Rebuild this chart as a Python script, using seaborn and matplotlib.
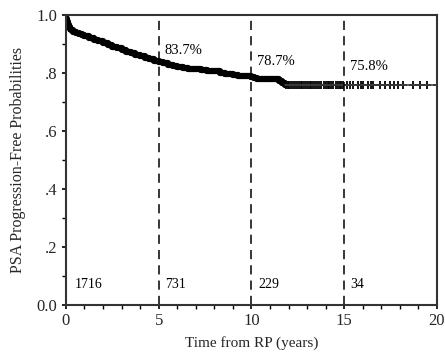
import matplotlib
matplotlib.use("Agg")
import matplotlib.pyplot as plt
from matplotlib.ticker import MultipleLocator
import seaborn as sns
import pandas as pd

# Kaplan-Meier step points (years, survival probability)
km_time = [0.0, 0.03, 0.06, 0.1, 0.15, 0.2, 0.3, 0.4, 0.55, 0.7, 0.85, 1.0, 1.25, 1.5, 1.75,
           2.0, 2.25, 2.5, 2.75, 3.0, 3.25, 3.5, 3.75, 4.0, 4.25, 4.5, 4.75, 5.0, 5.25,
           5.5, 5.75, 6.0, 6.3, 6.6, 7.0, 7.3, 7.6, 8.0, 8.3, 8.6, 9.0, 9.3, 9.6, 10.0,
           10.15, 10.3, 11.3, 11.5, 11.65, 11.8]
km_surv = [1.0, 0.985, 0.975, 0.965, 0.958, 0.952, 0.947, 0.942, 0.938, 0.934, 0.930,
           0.926, 0.921, 0.915, 0.909, 0.903, 0.897, 0.891, 0.885, 0.879, 0.873, 0.867,
           0.862, 0.857, 0.852, 0.847, 0.842, 0.837, 0.833, 0.829, 0.825, 0.821, 0.818,
           0.815, 0.812, 0.810, 0.808, 0.805, 0.801, 0.797, 0.793, 0.791, 0.789, 0.787,
           0.782, 0.778, 0.778, 0.772, 0.765, 0.758]

# tail of the curve (no more events) and censored observations
tail_time = [11.8, 20.0]
tail_surv = [0.758, 0.758]
censor_time = [11.85, 11.95, 12.05, 12.15, 12.25, 12.35, 12.45, 12.55, 12.65, 12.75,
               12.85, 12.95, 13.05, 13.15, 13.2, 13.3, 13.4, 13.55, 13.65, 13.75, 13.9,
               14.0, 14.1, 14.2, 14.3, 14.4, 14.55, 14.65, 14.75, 14.85, 14.95,
               15.13, 15.31, 15.49, 15.76, 15.9, 16.03, 16.3, 16.45, 16.57, 16.93, 17.2,
               17.47, 17.68, 17.92, 18.15, 18.72, 19.08, 19.44, 19.98]
censor_surv = [0.758] * len(censor_time)

landmark_years = [5, 10, 15]
landmark_labels = ["83.7%", "78.7%", "75.8%"]
landmark_label_y = [0.855, 0.817, 0.80]
at_risk_x = [0.5, 5.35, 10.4, 15.35]
at_risk = ["1716", "731", "229", "34"]

y_ticks = [0.0, 0.2, 0.4, 0.6, 0.8, 1.0]
y_tick_labels = ["0.0", ".2", ".4", ".6", ".8", "1.0"]
x_ticks = [0, 5, 10, 15, 20]

sns.set_theme(style="white")
plt.rcParams["font.family"] = ["Liberation Serif", "DejaVu Serif"]

fig = plt.figure(figsize=(4.45, 3.54), dpi=100)
ax = fig.add_axes([0.148, 0.138, 0.834, 0.82])

km = pd.DataFrame({"t": km_time, "s": km_surv})
sns.lineplot(data=km, x="t", y="s", ax=ax, color="black", linewidth=4.5,
             drawstyle="steps-post", estimator=None, sort=False)
tail = pd.DataFrame({"t": tail_time, "s": tail_surv})
sns.lineplot(data=tail, x="t", y="s", ax=ax, color="#444444", linewidth=1.2,
             estimator=None, sort=False)
cens = pd.DataFrame({"t": censor_time, "s": censor_surv})
sns.scatterplot(data=cens, x="t", y="s", ax=ax, marker="+", color="black",
                s=40, linewidth=1.3)

for xv, lab, ly in zip(landmark_years, landmark_labels, landmark_label_y):
    ax.axvline(xv, ymin=0, ymax=1, color="black", linestyle=(0, (6, 4)), linewidth=1.1)
    ax.text(xv + 0.3, ly, lab, fontsize=10.5, ha="left", va="bottom", color="black")

for xv, lab in zip(at_risk_x, at_risk):
    ax.text(xv, 0.07, lab, fontsize=10, ha="left", va="center", color="black")

ax.set_xlim(0, 20)
ax.set_ylim(0, 1.0)
ax.set_xticks(x_ticks)
ax.set_xticklabels([str(v) for v in x_ticks], fontsize=12)
ax.set_yticks(y_ticks)
ax.set_yticklabels(y_tick_labels, fontsize=12)
ax.xaxis.set_minor_locator(MultipleLocator(1))
ax.yaxis.set_minor_locator(MultipleLocator(0.1))
ax.tick_params(axis="both", which="major", direction="out", length=3, width=1.2,
               color="black", bottom=True, left=True, pad=3)
ax.tick_params(axis="both", which="minor", direction="out", length=3, width=1,
               color="black", bottom=True, left=True)
ax.set_xlabel("Time from RP (years)", fontsize=11, labelpad=5)
ax.set_ylabel("PSA Progression-Free Probabilities", fontsize=11.5, labelpad=8)
for sp in ax.spines.values():
    sp.set_color("#333333")
    sp.set_linewidth(1.5)

fig.savefig("out.png", dpi=100)
